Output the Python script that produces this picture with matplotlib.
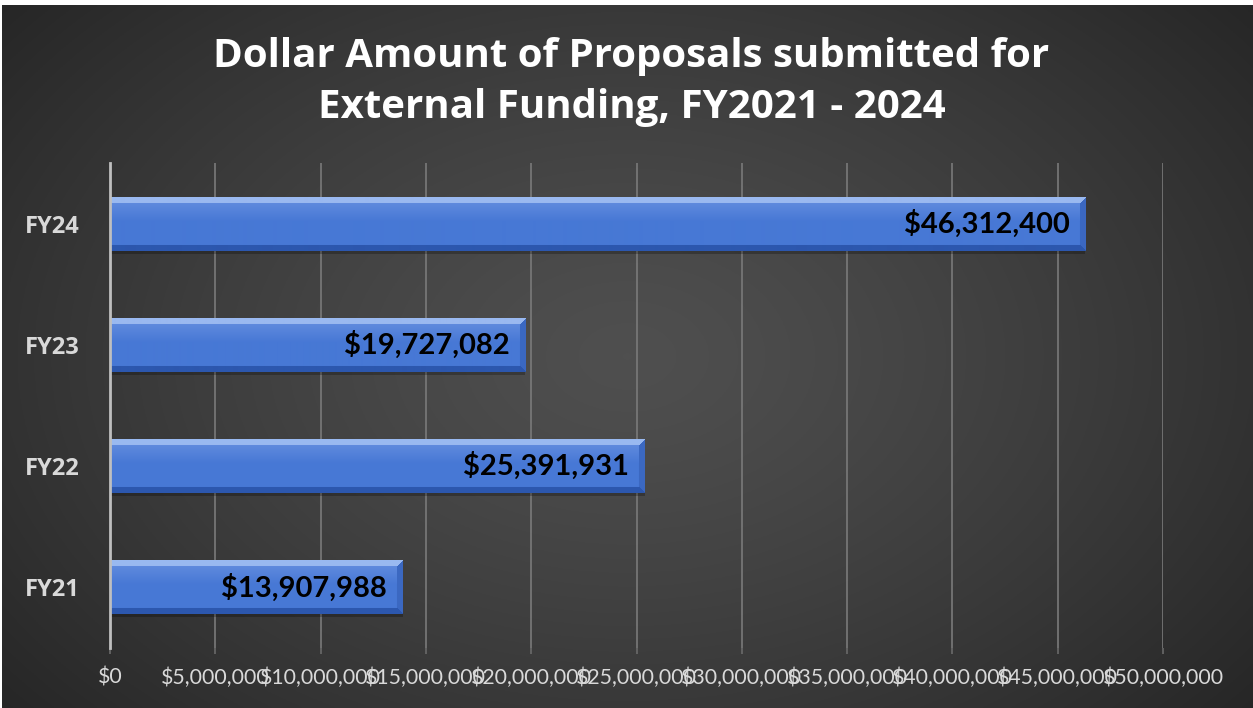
"""Dollar amount of proposals submitted for external funding, FY2021-2024."""
import numpy as np
import matplotlib
matplotlib.use("Agg")
import matplotlib.pyplot as plt
from matplotlib.ticker import FuncFormatter, MultipleLocator

years = ["FY21", "FY22", "FY23", "FY24"]
amounts = [13907988, 25391931, 19727082, 46312400]
title = "Dollar Amount of Proposals submitted for\nExternal Funding, FY2021 - 2024"

plt.rcParams["font.family"] = ["Lato", "DejaVu Sans"]

W, H, DPI = 1253, 708, 100
fig = plt.figure(figsize=(W / DPI, H / DPI), dpi=DPI, facecolor="white")

# dark radial background (slightly inset: thin white strip at top/left)
bg = fig.add_axes([2 / W, 0, 1 - 2 / W, 1 - 5 / H], zorder=-5)
yy, xx = np.mgrid[0:1:400j, 0:1:700j]
r = np.sqrt(((xx - 0.5) / 0.62) ** 2 + ((yy - 0.5) / 0.75) ** 2)
shade = np.clip(0.31 - 0.15 * r ** 1.3, 0.14, 0.31)
bg.imshow(np.dstack([shade] * 3), extent=(0, 1, 0, 1), aspect="auto")
bg.set_axis_off()

ax = fig.add_axes([110 / W, 1 - 648 / H, 1053 / W, 485 / H])
ax.set_facecolor("none")
ax.set_xlim(0, 50_000_000)
ax.set_ylim(-0.5, 3.5)

bars = ax.barh(years, amounts, height=0.445, color="#4a78d2", zorder=3)

# bevelled blue fill for each bar
fig.canvas.draw()
top_c = np.array([0x9a, 0xb9, 0xf0]) / 255
mid_c = np.array([0x47, 0x78, 0xd5]) / 255
hi_c = np.array([0x66, 0x90, 0xe0]) / 255
bot_c = np.array([0x2c, 0x57, 0xae]) / 255
rt_c = np.array([0x3b, 0x68, 0xc2]) / 255
bev = 6
for b in bars:
    (px0, py0), (px1, py1) = ax.transData.transform(
        [(b.get_x(), b.get_y()), (b.get_x() + b.get_width(), b.get_y() + b.get_height())])
    nx, ny = int(round(px1 - px0)), int(round(py1 - py0))
    jj, ii = np.meshgrid(np.arange(nx), np.arange(ny))
    d_top, d_bot = ii, ny - 1 - ii
    d_right = nx - 1 - jj
    t = (ii / max(ny - 1, 1))[..., None]
    img = np.where(t < 0.45, hi_c * (1 - t / 0.45) + mid_c * (t / 0.45), mid_c)
    img = np.broadcast_to(img, (ny, nx, 3)).copy()
    dmin = np.minimum.reduce([d_top, d_bot, d_right])
    img[(d_right == dmin) & (dmin < bev)] = rt_c
    img[(d_bot == dmin) & (dmin < bev)] = bot_c
    img[(d_top == dmin) & (dmin < bev)] = top_c
    im = ax.imshow(img, extent=(b.get_x(), b.get_x() + b.get_width(),
                                b.get_y(), b.get_y() + b.get_height()),
                   aspect="auto", zorder=4, interpolation="bilinear")
    im.set_clip_path(b)
    # soft shadow below the bar
    ax.barh(b.get_y() + b.get_height() / 2 - 0.025, b.get_width(), height=b.get_height(),
            color="black", alpha=0.25, zorder=2)
    ax.annotate(f"${b.get_width():,.0f}", xy=(b.get_width(), b.get_y() + b.get_height() / 2),
                xytext=(-16, 0), textcoords="offset pixels", ha="right", va="center",
                fontsize=21, fontweight="bold", color="black", zorder=6)
ax.set_xlim(0, 50_000_000)
ax.set_ylim(-0.5, 3.5)

ax.xaxis.set_major_locator(MultipleLocator(5_000_000))
ax.xaxis.set_major_formatter(FuncFormatter(lambda v, _: f"${v:,.0f}"))
ax.grid(axis="x", color="#7a7a7a", lw=1.2, zorder=1)
ax.set_axisbelow(True)
ax.tick_params(axis="x", colors="#d9d9d9", labelsize=15.3, length=4, width=1.2, pad=10)
ax.tick_params(axis="x", color="#6a6a6a")
ax.set_yticks(range(len(years)), labels=years)
ax.tick_params(axis="y", colors="#d9d9d9", labelsize=17, length=0, pad=22)
for s in ("top", "right", "bottom"):
    ax.spines[s].set_visible(False)
ax.spines["left"].set_color("#bfbfbf")
ax.spines["left"].set_linewidth(2)
ax.spines["left"].set_zorder(5)

fig.text(0.504, 0.884, title, ha="center", va="center", color="white",
         fontsize=29, fontweight="bold", linespacing=1.38, family=["Open Sans", "DejaVu Sans"])

fig.canvas.draw()
for tk in ax.yaxis.get_major_ticks():
    tk.label1.set_fontweight("bold")
    tk.label1.set_fontfamily(["Open Sans", "DejaVu Sans"])

fig.savefig("out.png", dpi=DPI, facecolor="white")
